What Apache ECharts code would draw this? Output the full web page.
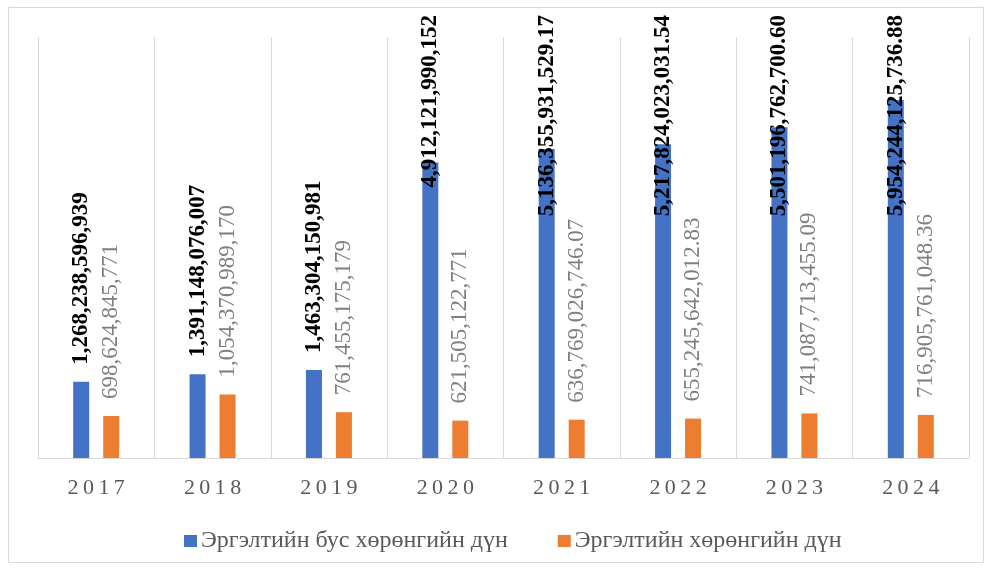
<!DOCTYPE html>
<html>
<head>
<meta charset="utf-8">
<script src="https://cdn.jsdelivr.net/npm/echarts@6/dist/echarts.min.js"></script>
<style>
  html, body { margin: 0; padding: 0; background: #fff; }
  #chart { width: 991px; height: 570px; }
</style>
</head>
<body>
<div id="chart"></div>
<script>
// ---- data ----
var years = ['2017', '2018', '2019', '2020', '2021', '2022', '2023', '2024'];
var nonCurrent = [1268238596939, 1391148076007, 1463304150981, 4912121990152,
                  5136355931529.17, 5217824023031.54, 5501196762700.60, 5954244125736.88];
var current = [698624845771, 1054370989170, 761455175179, 621505122771,
               636769026746.07, 655245642012.83, 741087713455.09, 716905761048.36];
var decimals = [0, 0, 0, 0, 2, 2, 2, 2];
var seriesNames = ['Эргэлтийн бус хөрөнгийн дүн', 'Эргэлтийн хөрөнгийн дүн'];

var FONT = '"Liberation Serif", "Times New Roman", serif';
var LABEL_SIZE = 23;
var LABEL_DIST = 17;
var TOP_LIMIT = 15;

function fmt(v, d) {
    return v.toLocaleString('en-US', { minimumFractionDigits: d, maximumFractionDigits: d });
}

var measureCtx = document.createElement('canvas').getContext('2d');
function textLen(str, bold) {
    measureCtx.font = (bold ? 'bold ' : '') + LABEL_SIZE + 'px ' + FONT;
    return measureCtx.measureText(str).width;
}

var chart = echarts.init(document.getElementById('chart'), null, { renderer: 'canvas' });

function makeItems(values, bold, seriesIndex) {
    return values.map(function (v, i) {
        var txt = fmt(v, decimals[i]);
        var dist = LABEL_DIST;
        if (seriesIndex != null) {
            var top = chart.convertToPixel({ seriesIndex: seriesIndex }, [i, v])[1];
            var len = textLen(txt, bold);
            // long labels get pushed down so they stay inside the chart area
            if (top - LABEL_DIST - len < TOP_LIMIT) {
                dist = top - TOP_LIMIT - len;
            }
        }
        return { value: v, label: { formatter: txt, distance: dist } };
    });
}

function buildOption(blueData, orangeData) {
    return {
        animation: false,
        backgroundColor: '#fff',
        graphic: [{
            type: 'rect',
            shape: { x: 8.5, y: 7.5, width: 975, height: 555 },
            style: { fill: 'none', stroke: '#d9d9d9', lineWidth: 1 },
            silent: true
        }],
        grid: { left: 38, right: 22, top: 37, bottom: 112 },
        legend: {
            left: 179,
            top: 524,
            itemWidth: 13,
            itemHeight: 12,
            itemGap: 50,
            icon: 'rect',
            textStyle: { fontFamily: FONT, fontSize: 24, color: '#595959', padding: [0, 0, 0, -1] },
            data: seriesNames
        },
        xAxis: {
            type: 'category',
            data: years,
            axisLine: { lineStyle: { color: '#d9d9d9', width: 1 } },
            axisTick: { show: false, interval: 0 },
            splitLine: { show: true, interval: 0, lineStyle: { color: '#d9d9d9', width: 1 } },
            axisLabel: {
                interval: 0,
                margin: 19,
                // spaced-out digits like the original
                formatter: function (v) {
                    return v.split('').map(function (c) { return '{d|' + c + '}'; }).join('');
                },
                rich: {
                    d: { fontFamily: FONT, fontSize: 22, color: '#595959', padding: [0, 2.2, 0, 2.2] }
                }
            }
        },
        yAxis: {
            type: 'value',
            min: 0,
            max: 7000000000000,
            show: false,
            splitLine: { show: false }
        },
        series: [{
            name: seriesNames[0],
            type: 'bar',
            barWidth: 16,
            barGap: '87.5%',
            itemStyle: { color: '#4472c4' },
            label: {
                show: true,
                position: 'top',
                rotate: 90,
                align: 'left',
                verticalAlign: 'middle',
                fontFamily: FONT,
                fontSize: LABEL_SIZE,
                fontWeight: 'bold',
                color: '#000'
            },
            data: blueData
        }, {
            name: seriesNames[1],
            type: 'bar',
            barWidth: 16,
            itemStyle: { color: '#ed7d31' },
            label: {
                show: true,
                position: 'top',
                rotate: 90,
                align: 'left',
                verticalAlign: 'middle',
                fontFamily: FONT,
                fontSize: LABEL_SIZE,
                color: '#7f7f7f'
            },
            data: orangeData
        }]
    };
}

// first pass to get the scales, second pass to place the labels
chart.setOption(buildOption(makeItems(nonCurrent, true, null), makeItems(current, false, null)));
chart.setOption(buildOption(makeItems(nonCurrent, true, 0), makeItems(current, false, 1)));
</script>
</body>
</html>
